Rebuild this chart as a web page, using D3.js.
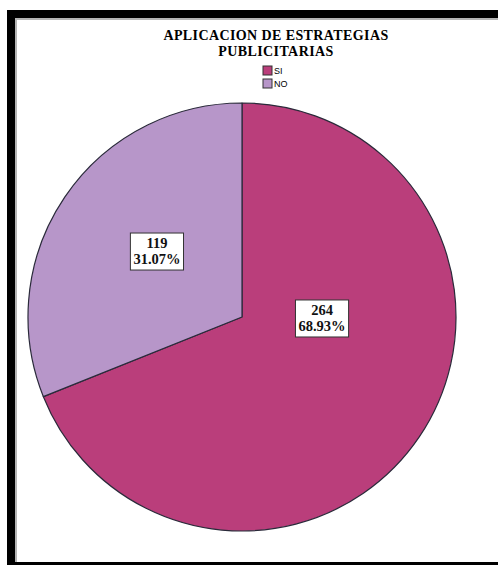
<!DOCTYPE html>
<html>
<head>
<meta charset="utf-8">
<script src="https://cdn.jsdelivr.net/npm/d3@7"></script>
<style>
  html, body { margin: 0; padding: 0; background: #fff; }
  svg { display: block; }
</style>
</head>
<body>
<svg id="chart" width="498" height="565"></svg>
<script>
// Survey answers: application of advertising strategies
const categories = ["SI", "NO"];
const counts = [264, 119];
const percents = ["68.93%", "31.07%"];
const colors = ["#BA3E7B", "#B796C9"];
const title = ["APLICACION DE ESTRATEGIAS", "PUBLICITARIAS"];

const svg = d3.select("#chart");
const W = 498, H = 565;

// Frame: thick black border with a thin grey inner line
svg.append("rect").attr("x", 0).attr("y", 0).attr("width", W).attr("height", H).attr("fill", "#fff");
svg.append("rect").attr("x", 7).attr("y", 10).attr("width", W - 7).attr("height", 8).attr("fill", "#000");
svg.append("rect").attr("x", 7).attr("y", 10).attr("width", 8).attr("height", H - 10).attr("fill", "#000");
svg.append("rect").attr("x", 7).attr("y", H - 3).attr("width", W - 7).attr("height", 3).attr("fill", "#000");
svg.append("rect").attr("x", 15).attr("y", 18).attr("width", W - 15).attr("height", 2).attr("fill", "#b4b4b4");
svg.append("rect").attr("x", 15).attr("y", 18).attr("width", 2).attr("height", H - 21).attr("fill", "#b4b4b4");

// Title, one text element per line
svg.selectAll("text.title").data(title).join("text")
  .attr("class", "title")
  .attr("x", 276).attr("y", (d, i) => 40 + i * 16)
  .attr("text-anchor", "middle")
  .style("font-family", "'Liberation Serif', 'Times New Roman', serif")
  .style("font-weight", "bold")
  .style("font-size", "14px")
  .style("letter-spacing", "0.4px")
  .text(d => d);

// Legend
const legend = svg.append("g").attr("transform", "translate(263,66)");
const li = legend.selectAll("g").data(categories).join("g")
  .attr("transform", (d, i) => `translate(0,${i * 13})`);
li.append("rect").attr("width", 9).attr("height", 9)
  .attr("fill", (d, i) => colors[i]).attr("stroke", "#333").attr("stroke-width", 1);
li.append("text").attr("x", 11).attr("y", 8)
  .style("font-family", "'Liberation Sans', Arial, sans-serif")
  .style("font-size", "9px")
  .text(d => d);

// Pie
const cx = 242, cy = 317, r = 214;
const g = svg.append("g").attr("transform", `translate(${cx},${cy})`);
const pie = d3.pie().sort(null).value(d => d)(counts);
const arc = d3.arc().innerRadius(0).outerRadius(r);

g.selectAll("path").data(pie).join("path")
  .attr("d", arc)
  .attr("fill", (d, i) => colors[i])
  .attr("stroke", "#2a2a3a")
  .attr("stroke-width", 1.2)
  .attr("stroke-linejoin", "round");

// Label placement: angle (deg, clockwise from top) and fraction of radius
const labelPlace = [{ angle: 90.7, frac: 0.374 }, { angle: 307.8, frac: 0.503 }];

const labels = g.selectAll("g.lbl").data(pie).join("g").attr("class", "lbl")
  .attr("transform", (d, i) => {
    const a = labelPlace[i].angle * Math.PI / 180;
    const rr = labelPlace[i].frac * r;
    return `translate(${rr * Math.sin(a)},${-rr * Math.cos(a)})`;
  });

labels.each(function (d, i) {
  const sel = d3.select(this);
  const txt = sel.append("text")
    .attr("text-anchor", "middle")
    .style("font-family", "'Liberation Serif', 'Times New Roman', serif")
    .style("font-weight", "bold")
    .style("font-size", "14.5px")
    .style("fill", "#111");
  txt.append("tspan").attr("x", 0).attr("y", -3).text(counts[i]);
  txt.append("tspan").attr("x", 0).attr("y", 13).text(percents[i]);
  const bb = txt.node().getBBox();
  sel.insert("rect", "text")
    .attr("x", bb.x - 3).attr("y", bb.y - 2)
    .attr("width", bb.width + 6).attr("height", bb.height + 5)
    .attr("fill", "#fff").attr("stroke", "#333").attr("stroke-width", 1);
});
</script>
</body>
</html>
